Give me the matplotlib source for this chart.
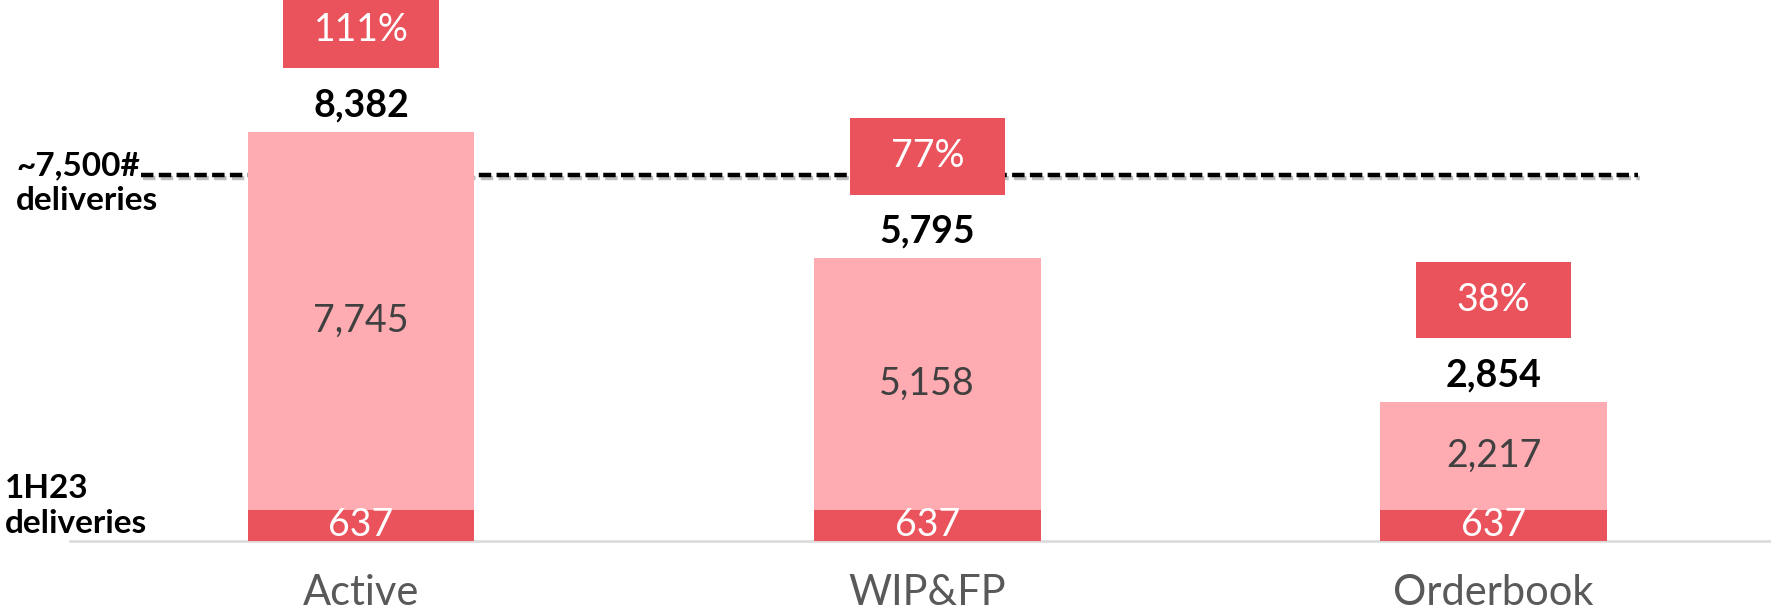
import matplotlib.pyplot as plt
import matplotlib.patheffects as pe
from matplotlib.patches import Rectangle

# data
categories = ['Active', 'WIP&FP', 'Orderbook']
delivered_1h23 = [637, 637, 637]
remaining = [7745, 5158, 2217]
totals = [8382, 5795, 2854]
pct_labels = ['111%', '77%', '38%']
target = 7500

light_red = '#FEABB1'
dark_red = '#EA535B'

plt.rcParams['font.family'] = ['Lato', 'DejaVu Sans']

fig = plt.figure(figsize=(17.71, 6.11), dpi=100)
ax = fig.add_axes([0.0395, 0.1146, 0.9605, 0.8854])

x = list(range(len(categories)))
bar_w = 0.4

# stacked bars
ax.bar(x, delivered_1h23, width=bar_w, color=dark_red, zorder=3)
ax.bar(x, remaining, width=bar_w, bottom=delivered_1h23, color=light_red, zorder=3)

# target line with a soft shadow
ax.axhline(target, xmin=0.042, xmax=0.922, color='black', lw=3.2,
           dashes=(2.8, 1.2), zorder=2,
           path_effects=[pe.SimpleLineShadow(offset=(1.5, -2.5), alpha=0.25),
                         pe.Normal()])

for i in x:
    # value inside each segment
    ax.text(i, delivered_1h23[i] / 2, f'{delivered_1h23[i]:,}', ha='center',
            va='center', color='white', fontsize=27, zorder=4)
    ax.text(i, delivered_1h23[i] + remaining[i] / 2, f'{remaining[i]:,}',
            ha='center', va='center', color='#404040', fontsize=27, zorder=4)
    # total on top
    ax.annotate(f'{totals[i]:,}', (i, totals[i]), xytext=(0, 19),
                textcoords='offset points', ha='center', va='center',
                fontsize=27, fontweight='bold', color='black', zorder=4)
    # percentage box
    box_h = 1560
    box_w = 0.274
    cy = totals[i] + 2080
    ax.add_patch(Rectangle((i - box_w / 2, cy - box_h / 2), box_w, box_h,
                           facecolor=dark_red, edgecolor='none', zorder=5,
                           clip_on=False))
    ax.text(i, cy, pct_labels[i], ha='center', va='center', color='white',
            fontsize=27, zorder=6)

ax.set_xlim(-0.514, 2.49)
ax.set_ylim(0, 11080)
ax.set_xticks(x)
ax.set_xticklabels(categories, fontsize=30, color='#595959')
ax.tick_params(axis='x', length=0, pad=24)
ax.set_yticks([])
for s in ['top', 'right', 'left']:
    ax.spines[s].set_visible(False)
ax.spines['bottom'].set_color('#d9d9d9')
ax.spines['bottom'].set_linewidth(1.8)

fig.text(0.009, 0.700, '~7,500#\ndeliveries', ha='left', va='center',
         fontsize=24, fontweight='bold', linespacing=1.25)
fig.text(0.003, 0.172, '1H23\ndeliveries', ha='left', va='center',
         fontsize=24, fontweight='bold', linespacing=1.25)

fig.savefig('out.png', dpi=100)
